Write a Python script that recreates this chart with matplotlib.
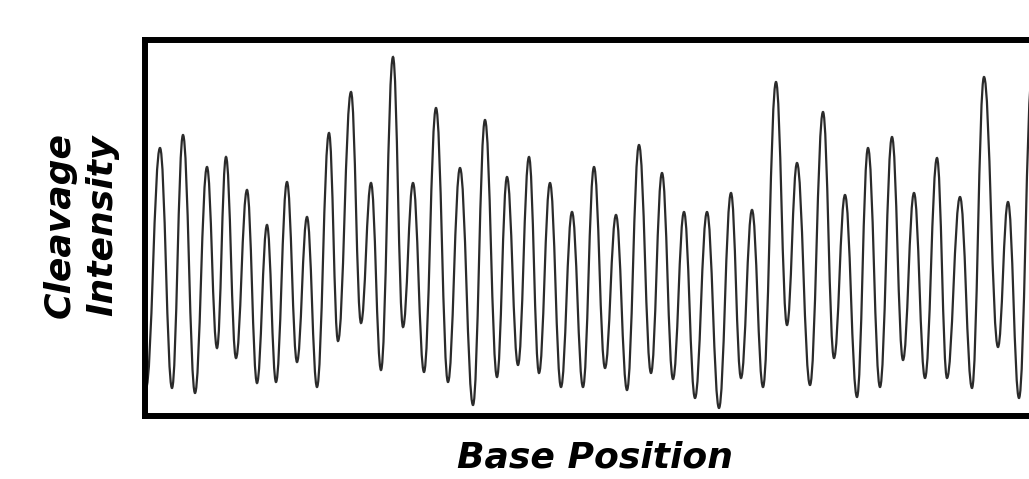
import matplotlib
matplotlib.use("Agg")
import matplotlib.pyplot as plt
from matplotlib.path import Path
from matplotlib.patches import PathPatch

# cleavage signal: alternating troughs and peaks along the sequence
trough_pos = [1, 27, 50, 72, 91, 112, 131, 152, 172, 193, 216, 236, 258, 279, 303, 328,
              352, 373, 394, 416, 438, 460, 482, 506, 528, 550, 574, 596, 618, 642, 665,
              689, 712, 735, 758, 780, 802, 827, 853, 874]
trough_val = [28, 28, 23, 68, 58, 33, 34, 54, 29, 75, 93, 46, 89, 44, 34, 11,
              39, 51, 43, 29, 29, 48, 26, 43, 37, 18, 8, 38, 29, 91, 31,
              58, 19, 29, 56, 38, 38, 28, 69, 18]
peak_pos = [15, 38, 62, 81, 102, 122, 142, 162, 184, 206, 226, 248, 268, 291, 315, 340,
            362, 384, 405, 427, 449, 471, 494, 517, 539, 562, 586, 607, 631, 652, 678,
            700, 723, 747, 769, 792, 815, 839, 863, 887]
peak_val = [268, 281, 249, 259, 226, 191, 234, 199, 283, 324, 233, 359, 233, 308, 248, 296,
            239, 259, 233, 204, 249, 201, 271, 243, 204, 204, 223, 206, 334, 253, 304,
            221, 268, 279, 223, 258, 219, 339, 214, 341]

xs = []
ys = []
for i in range(len(peak_pos)):
    xs += [trough_pos[i], peak_pos[i]]
    ys += [trough_val[i], peak_val[i]]

# smooth curve: cubic bezier between extrema, flat tangent at each one
a = 0.4
verts = [(xs[0], ys[0])]
codes = [Path.MOVETO]
for i in range(len(xs) - 1):
    dx = xs[i + 1] - xs[i]
    verts += [(xs[i] + a * dx, ys[i]), (xs[i + 1] - a * dx, ys[i + 1]), (xs[i + 1], ys[i + 1])]
    codes += [Path.CURVE4] * 3

W, H = 1029, 479
fig = plt.figure(figsize=(W / 100, H / 100), dpi=100)
ax = fig.add_axes([145 / W, 1 - 416 / H, 895 / W, 376 / H])
ax.add_patch(PathPatch(Path(verts, codes), fill=False, edgecolor="#2a2a2a", lw=1.6))
ax.set_xlim(0, 895)
ax.set_ylim(0, 376)
ax.set_xticks([])
ax.set_yticks([])
for s in ax.spines.values():
    s.set_linewidth(4.3)
    s.set_color("black")

fig.text(595 / W, 1 - 467 / H, "Base Position", ha="center", va="baseline",
         fontsize=26, style="italic", weight="bold", family="DejaVu Sans")
fig.text(81 / W, 1 - 225 / H, "Cleavage\nIntensity", ha="center", va="center",
         rotation=90, multialignment="center", fontsize=26, style="italic",
         weight="bold", family="DejaVu Sans", linespacing=1.35)

fig.savefig("out.png", dpi=100)
